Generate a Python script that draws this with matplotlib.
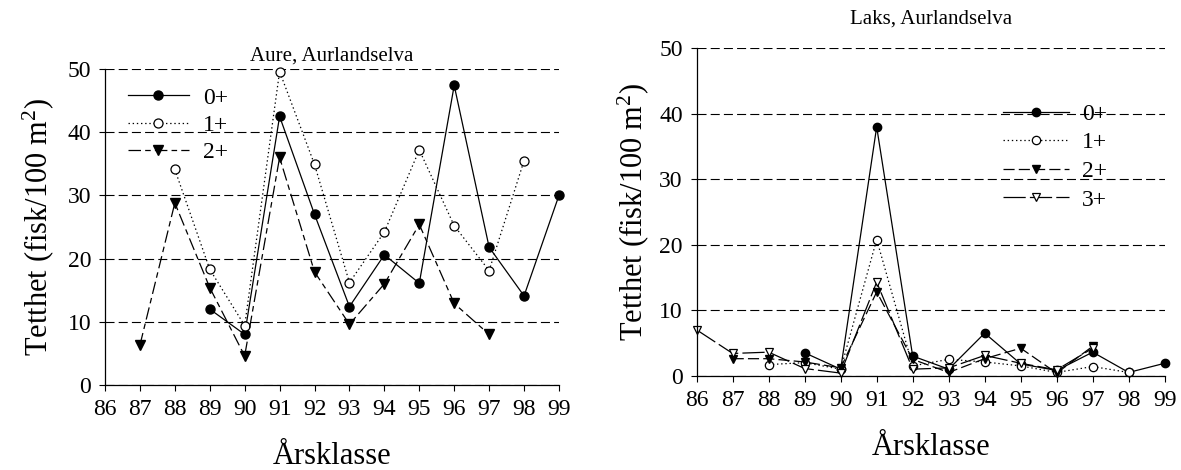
import numpy as np
import matplotlib
matplotlib.use("Agg")
import matplotlib.pyplot as plt

plt.rcParams['font.family'] = ['Liberation Serif', 'DejaVu Serif']
plt.rcParams['mathtext.fontset'] = 'custom'
plt.rcParams['mathtext.rm'] = 'Liberation Serif'
plt.rcParams['mathtext.it'] = 'Liberation Serif:italic'
plt.rcParams['lines.scale_dashes'] = False

# Year classes (årsklasse) on the x axis
years = list(range(86, 100))
year_labels = [str(y) for y in years]

# Aure (brown trout), Aurlandselva: density per age group
aure_0_years = [89, 90, 91, 92, 93, 94, 95, 96, 97, 98, 99]
aure_0 = [12.0, 8.0, 42.5, 27.0, 12.4, 20.6, 16.1, 47.4, 21.8, 14.1, 30.0]
aure_1_years = [88, 89, 90, 91, 92, 93, 94, 95, 96, 97, 98]
aure_1 = [34.1, 18.3, 9.4, 49.6, 34.9, 16.2, 24.2, 37.2, 25.2, 18.1, 35.5]
aure_2_years = [87, 88, 89, 90, 91, 92, 93, 94, 95, 96, 97]
aure_2 = [6.3, 28.8, 15.4, 4.6, 36.0, 17.9, 9.6, 16.0, 25.4, 12.9, 8.0]

# Laks (salmon), Aurlandselva: density per age group
laks_0_years = [89, 90, 91, 92, 93, 94, 95, 96, 97, 98, 99]
laks_0 = [3.5, 1.0, 38.0, 3.0, 1.0, 6.5, 1.8, 0.8, 3.6, 0.5, 1.9]
laks_1_years = [88, 89, 90, 91, 92, 93, 94, 95, 96, 97, 98]
laks_1 = [1.7, 2.0, 1.0, 20.8, 1.5, 2.5, 2.1, 1.5, 0.5, 1.4, 0.5]
laks_2_years = [87, 88, 89, 90, 91, 92, 93, 94, 95, 96, 97]
laks_2 = [2.6, 2.6, 2.1, 1.2, 12.8, 2.5, 0.5, 2.6, 4.2, 0.4, 4.5]
laks_3_years = [86, 87, 88, 89, 90, 91, 92, 93, 94, 95, 96, 97]
laks_3 = [7.0, 3.4, 3.6, 1.1, 0.4, 14.3, 1.0, 1.2, 3.1, 1.9, 0.9, 4.2]

y_ticks = [0, 10, 20, 30, 40, 50]
ylabel = 'Tetthet (fisk/100 m$^2$)'
xlabel = 'Årsklasse'

fig = plt.figure(figsize=(11.81, 4.70), dpi=100)
ax1 = fig.add_axes([0.0889, 0.1809, 0.3844, 0.6723])
ax2 = fig.add_axes([0.5899, 0.2006, 0.3963, 0.6966])

grid_style = dict(color='black', linewidth=0.8, linestyle=(0, (6.5, 3.0)))

def style_axes(ax, title, title_pad, xlabelpad):
    ax.set_xlim(86, 99)
    ax.set_ylim(0, 50)
    ax.set_xticks(years)
    ax.set_xticklabels(year_labels)
    ax.set_yticks(y_ticks)
    ax.tick_params(axis='both', direction='out', length=4, width=0.8,
                   labelsize=17, colors='black', pad=6)
    for side in ('top', 'right'):
        ax.spines[side].set_visible(False)
    for side in ('left', 'bottom'):
        ax.spines[side].set_linewidth(0.9)
    ax.set_axisbelow(True)
    ax.yaxis.grid(True, **grid_style)
    ax.xaxis.grid(False)
    ax.set_title(title, fontsize=15, pad=title_pad)
    ax.set_ylabel(ylabel, fontsize=22)
    ax.set_xlabel(xlabel, fontsize=22, labelpad=xlabelpad)

# --- Aure ---
ms = 6.5
ax1.plot(aure_0_years, aure_0, color='black', lw=0.9, linestyle='-',
         marker='o', ms=ms, mfc='black', mec='black', label='0+', clip_on=False)
ax1.plot(aure_1_years, aure_1, color='black', lw=0.9, linestyle=(0, (1, 2)),
         marker='o', ms=ms, mfc='white', mec='black', mew=0.9, label='1+',
         clip_on=False)
ax1.plot(aure_2_years, aure_2, color='black', lw=0.9, linestyle=(0, (9, 3, 4, 3)),
         marker='v', ms=ms, mfc='black', mec='black', label='2+', clip_on=False)
style_axes(ax1, 'Aure, Aurlandselva', 6, 16)
ax1.yaxis.set_label_coords(-0.107, 0.5)
ax1.legend(loc='upper left', bbox_to_anchor=(0.05, 0.943), frameon=False,
           fontsize=17, handlelength=2.6, handletextpad=0.6,
           labelspacing=0.25, borderpad=0, borderaxespad=0)

# --- Laks ---
ms2 = 6
ax2.plot(laks_0_years, laks_0, color='black', lw=0.9, linestyle='-',
         marker='o', ms=ms2, mfc='black', mec='black', label='0+', clip_on=False)
ax2.plot(laks_1_years, laks_1, color='black', lw=0.9, linestyle=(0, (1, 2)),
         marker='o', ms=ms2, mfc='white', mec='black', mew=0.9, label='1+',
         clip_on=False)
ax2.plot(laks_2_years, laks_2, color='black', lw=0.9, linestyle=(0, (8, 3)),
         marker='v', ms=ms2, mfc='black', mec='black', label='2+', clip_on=False)
ax2.plot(laks_3_years, laks_3, color='black', lw=0.9, linestyle=(0, (16, 3)),
         marker='v', ms=ms2, mfc='white', mec='black', mew=0.9, label='3+',
         clip_on=False)
style_axes(ax2, 'Laks, Aurlandselva', 18, 16)
ax2.yaxis.set_label_coords(-0.097, 0.5)
ax2.legend(loc='upper left', bbox_to_anchor=(0.654, 0.832), frameon=False,
           fontsize=17, handlelength=2.8, handletextpad=0.55,
           labelspacing=0.3, borderpad=0, borderaxespad=0)

fig.savefig('out.png', dpi=100)
